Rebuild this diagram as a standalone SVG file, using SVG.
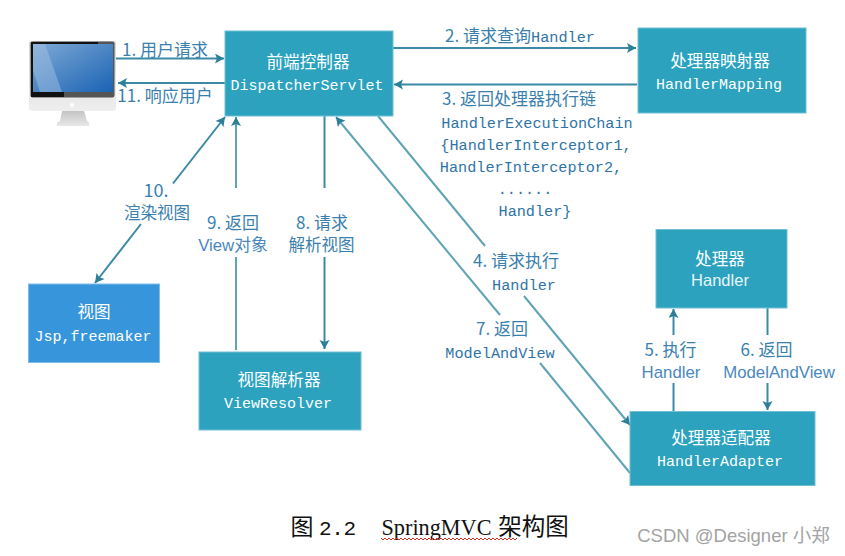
<svg xmlns="http://www.w3.org/2000/svg" width="845" height="556" viewBox="0 0 845 556">
<style>
.box{fill:#2ca2bf;stroke:#6fc0d6;stroke-width:1}
.blue{fill:#3796db;stroke:#7dbde9;stroke-width:1}
text{font-family:"Noto Sans CJK SC","Liberation Sans",sans-serif;text-anchor:middle}
.cn{font-size:16.600px;fill:#ffffff}
.en{font-family:"Liberation Mono","Noto Sans CJK SC",monospace;font-size:15px;fill:#ffffff}
.sans{font-family:"Liberation Sans","Noto Sans CJK SC",sans-serif;font-size:16.500px;fill:#e6f5f9}
.lb{font-size:17px;fill:#3a7fad}
.lc{font-size:16.500px;fill:#3a7fad}
.lm{font-family:"Liberation Mono","Noto Sans CJK SC",monospace;font-size:15.200px;fill:#2f74a6}
.ls{font-family:"Liberation Sans","Noto Sans CJK SC",sans-serif;font-size:16.800px;fill:#4a88bd}
.c{fill:none;stroke:#5fa3b6;stroke-width:2}
.d{fill:none;stroke:#3a8aa5;stroke-width:2}
</style>
<defs>
<marker id="a" markerUnits="userSpaceOnUse" markerWidth="12" markerHeight="12" refX="9" refY="5" orient="auto"><path d="M0 0L9 5L0 10L2 5Z" fill="#2b7f98"/></marker>
<linearGradient id="scr" x1="0" y1="0" x2="1" y2="1"><stop offset="0" stop-color="#7fa9d6"/><stop offset=".5" stop-color="#4c86c4"/><stop offset="1" stop-color="#1a63b5"/></linearGradient>
<linearGradient id="sil" x1="0" y1="0" x2="0" y2="1"><stop offset="0" stop-color="#d4d4d4"/><stop offset="1" stop-color="#eeeeee"/></linearGradient>
<linearGradient id="std" x1="0" y1="0" x2="0" y2="1"><stop offset="0" stop-color="#c4c4c4"/><stop offset="1" stop-color="#e8e8e8"/></linearGradient>
</defs>
<rect width="845" height="556" fill="#ffffff"/>
<g id="connectors">
<path class="d" d="M116 58.500H224" marker-end="url(#a)"/>
<path class="d" d="M225 83H118" marker-end="url(#a)"/>
<path class="d" d="M393 48H636" marker-end="url(#a)"/>
<path class="d" d="M637 84.500H394" marker-end="url(#a)"/>
<path class="d" d="M173 183.500L225 117" marker-end="url(#a)"/>
<path class="d" d="M141 224L95 283" marker-end="url(#a)"/>
<path class="c" d="M236 188V117" marker-end="url(#a)"/>
<path class="c" d="M236 257V350"/>
<path class="d" d="M324.500 116V188"/>
<path class="d" d="M324.500 257V349" marker-end="url(#a)"/>
<path class="c" d="M378 116L485 246"/>
<path class="c" d="M524 296L630 425" marker-end="url(#a)"/>
<path class="c" d="M630 473L540 363"/>
<path class="c" d="M500 315L336 117" marker-end="url(#a)"/>
<path class="d" d="M673.500 411V383"/>
<path class="d" d="M673.500 335V309" marker-end="url(#a)"/>
<path class="d" d="M767.500 308V335"/>
<path class="d" d="M767.500 383V410" marker-end="url(#a)"/>
</g>
<g id="monitor">
<path d="M62 111H84L87 121Q90 122 89 126H57Q56 122 60 121Z" fill="url(#std)"/>
<rect x="29" y="41" width="87" height="70" rx="3" fill="url(#sil)"/>
<rect x="30.500" y="41.500" width="84" height="56" rx="2" fill="#555555"/>
<path d="M31 42H98V44H33V92H64V97H31Z" fill="#111111"/>
<rect x="33" y="44" width="80" height="48" fill="url(#scr)"/>
<path d="M45 44L62 92H40L33 70V44Z" fill="#a9c6e4" opacity=".45"/>
<circle cx="72" cy="105" r="2" fill="#ffffff"/>
</g>
<g id="dispatcher">
<rect class="box" x="225" y="31" width="168" height="85"/>
<text class="cn" x="308" y="68">前端控制器</text>
<text class="en" x="307" y="90">DispatcherServlet</text>
</g>
<g id="mapping">
<rect class="box" x="638" y="28" width="168" height="85"/>
<text class="cn" x="720" y="67">处理器映射器</text>
<text class="en" x="719" y="89">HandlerMapping</text>
</g>
<g id="view">
<rect class="blue" x="28.500" y="284" width="131" height="78.500"/>
<text class="cn" x="94" y="318">视图</text>
<text class="en" x="93" y="341">Jsp,freemaker</text>
</g>
<g id="resolver">
<rect class="box" x="199" y="352" width="162" height="78"/>
<text class="cn" x="279" y="386">视图解析器</text>
<text class="en" x="278" y="408">ViewResolver</text>
</g>
<g id="handler">
<rect class="box" x="656" y="229.500" width="131" height="78.500"/>
<text class="cn" x="720" y="265">处理器</text>
<text class="sans" x="720" y="286">Handler</text>
</g>
<g id="adapter">
<rect class="box" x="630" y="411.500" width="185" height="74"/>
<text class="cn" x="721" y="444">处理器适配器</text>
<text class="en" x="720" y="466">HandlerAdapter</text>
</g>
<g id="labels">
<text class="lb" x="165" y="56">1. 用户请求</text>
<text class="lb" x="165" y="102">11. 响应用户</text>
<text class="lb" x="520" y="42">2. 请求查询<tspan class="lm">Handler</tspan></text>
<text class="lb" x="519" y="105">3. 返回处理器执行链</text>
<text class="lm" x="537" y="128">HandlerExecutionChain</text>
<text class="lm" x="536" y="150">{HandlerInterceptor1,</text>
<text class="lm" x="531" y="172">HandlerInterceptor2,</text>
<text class="lm" x="525" y="194">......</text>
<text class="lm" x="535" y="216">Handler}</text>
<text class="lb" x="156" y="197" style="font-size:18px">10.</text>
<text class="lc" x="157" y="219">渲染视图</text>
<text class="lb" x="233" y="229">9. 返回</text>
<text class="ls" x="233" y="251">View对象</text>
<text class="lb" x="322" y="229">8. 请求</text>
<text class="lc" x="321.500" y="251">解析视图</text>
<text class="lb" x="516" y="267">4. 请求执行</text>
<text class="lm" x="524" y="290">Handler</text>
<text class="lb" x="502" y="335">7. 返回</text>
<text class="lm" x="500" y="358">ModelAndView</text>
<text class="lb" x="670.500" y="356">5. 执行</text>
<text class="ls" x="671" y="378">Handler</text>
<text class="lb" x="766.500" y="356">6. 返回</text>
<text class="ls" x="779" y="378">ModelAndView</text>
</g>
<g id="caption">
<text x="302" y="535" style="font-size:23px;fill:#111">图</text>
<text x="337.500" y="535" textLength="37" style="font-family:'Liberation Mono',monospace;font-size:21px;fill:#111">2.2</text>
<text x="436.500" y="535" textLength="110" lengthAdjust="spacingAndGlyphs" style="font-family:'Liberation Serif',serif;font-size:23px;fill:#111">SpringMVC</text>
<text x="533.500" y="535" style="font-size:23.500px;fill:#111">架构图</text>
<path d="M381 538l2 2 2-2 2 2 2-2 2 2 2-2 2 2 2-2 2 2 2-2 2 2 2-2 2 2 2-2 2 2 2-2 2 2 2-2 2 2 2-2 2 2 2-2 2 2 2-2 2 2 2-2 2 2 2-2 2 2 2-2 2 2 2-2 2 2 2-2 2 2 2-2 2 2 2-2 2 2 2-2 2 2 2-2 2 2 2-2 2 2 2-2 2 2 2-2 2 2 2-2 2 2 2-2 2 2 2-2 2 2 2-2 2 2 2-2 2 2 2-2 2 2 2-2 2 2 2-2 2 2 2-2 2 2 2-2" fill="none" stroke="#d6322c" stroke-width="1"/>
<text x="733.500" y="542" style="font-family:'Liberation Sans','Noto Sans CJK SC',sans-serif;font-size:18.500px;fill:#a3a3a3">CSDN @Designer 小郑</text>
</g>
</svg>
